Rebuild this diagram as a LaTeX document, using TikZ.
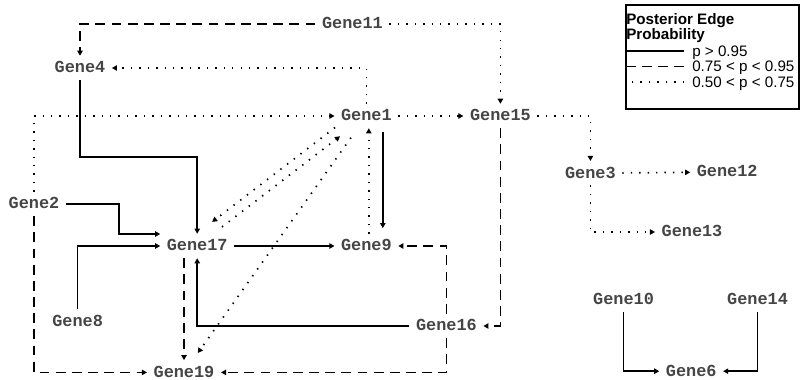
\documentclass[tikz,border=0pt]{standalone}
\usepackage{fontspec}
\setmainfont{Liberation Sans}
\newfontfamily\genefont{Liberation Mono}
\usetikzlibrary{arrows.meta}

\definecolor{genegray}{HTML}{454545}

\tikzstyle{gene} = [rectangle, font=\genefont\bfseries\fontsize{12}{14}\selectfont, text=genegray, inner xsep=4.5pt, inner ysep=5pt, text height=7pt, text depth=0pt]
\tikzstyle{link} = [line width=1.2pt, ->, >={Triangle[length=3.6pt,width=3.8pt]}]
\tikzstyle{strong} = [link]
\tikzstyle{moderate} = [link, dash pattern=on 7pt off 4.5pt]
\tikzstyle{weak} = [link, dash pattern=on 1pt off 5pt]
\tikzstyle{legendbox} = [rectangle, draw=black, line width=1.4pt, minimum width=4.31cm, minimum height=2.6cm]
\tikzstyle{legendtext} = [font=\fontsize{10.8}{11}\selectfont, inner sep=0pt, text depth=0pt, anchor=west]

\begin{document}
\begin{tikzpicture}[node distance=2cm]
\useasboundingbox (0,0) rectangle (20,-9.5);

\node (gene11) [gene] at (8.81,-0.6) {Gene11};
\node (gene1) [gene, below of=gene11, xshift=0.35cm, yshift=-0.3cm] {Gene1};
\node (gene15) [gene, right of=gene1, xshift=1.35cm] {Gene15};
\node (gene4) [gene, left of=gene11, xshift=-4.81cm, yshift=-1.1cm] {Gene4};
\node (gene9) [gene, below of=gene1, yshift=-1.25cm] {Gene9};
\node (gene17) [gene, left of=gene9, xshift=-2.23cm] {Gene17};
\node (gene2) [gene, left of=gene17, xshift=-2.08cm, yshift=1.05cm] {Gene2};
\node (gene8) [gene, below of=gene2, xshift=1.09cm, yshift=-0.93cm] {Gene8};
\node (gene19) [gene, below of=gene17, xshift=-0.33cm, yshift=-1.16cm] {Gene19};
\node (gene16) [gene, below of=gene9, xshift=2cm] {Gene16};
\node (gene3) [gene, below of=gene15, xshift=2.25cm, yshift=0.57cm] {Gene3};
\node (gene12) [gene, right of=gene3, xshift=1.42cm, yshift=0.03cm] {Gene12};
\node (gene13) [gene, below of=gene3, xshift=2.54cm, yshift=0.53cm] {Gene13};
\node (gene10) [gene, below of=gene3, xshift=0.83cm, yshift=-1.17cm] {Gene10};
\node (gene14) [gene, right of=gene10, xshift=1.35cm] {Gene14};
\node (gene6) [gene, below of=gene10, xshift=1.69cm, yshift=0.22cm] {Gene6};

% legend
\node (legend) [legendbox] at (17.81,-1.425) {};
\node (title) [anchor=north west, inner sep=0pt, align=left, font=\bfseries\fontsize{10.8}{10.8}\selectfont] at ([xshift=0.02cm, yshift=-0.22cm]legend.north west) {Posterior Edge\\Probability};
\node (pbig) [legendtext] at ([xshift=1.67cm, yshift=-1.175cm]legend.north west) {p > 0.95};
\node (pmid) [legendtext] at ([xshift=1.67cm, yshift=-1.5625cm]legend.north west) {0.75 < p < 0.95};
\node (plow) [legendtext] at ([xshift=1.67cm, yshift=-1.95cm]legend.north west) {0.50 < p < 0.75};
\draw [strong, -] ([xshift=-0.2cm]pbig.west) -- ++(-1.45,0);
\draw [moderate, -] ([xshift=-0.2cm]pmid.west) -- ++(-1.45,0);
\draw [weak, -] ([xshift=-0.2cm]plow.west) -- ++(-1.45,0);

% p > 0.95
\draw [strong] (gene4.south) -- ++(0,-1.925) -| (gene17.north);
\draw [strong] (gene2.east) -- ++(1.32,0) |- ([yshift=0.3cm]gene17.west);
\draw [strong] (gene8.north) |- (gene17.west);
\draw [strong] (gene17) -- (gene9);
\draw [strong, shorten <=3pt, shorten >=4pt] ([xshift=0.41cm]gene1.south) -- ([xshift=0.41cm]gene9.north);
\draw [strong] (gene16.west) -| (gene17.south);
\draw [strong] (gene10.south) |- (gene6.west);
\draw [strong] (gene14.south) |- (gene6.east);

% 0.75 < p < 0.95
\draw [moderate] (gene11.west) -| (gene4.north);
\draw [moderate] (gene2.south) |- (gene19.west);
\draw [moderate] (gene17.south -| gene19) -- (gene19.north);
\draw [moderate] (gene15.south) |- (gene16.east);
\draw [moderate] (gene16.north) |- (gene9.east);
\draw [moderate] (gene16.south) |- (gene19.east);

% 0.50 < p < 0.75
\draw [weak] (gene11.east) -| (gene15.north);
\draw [weak] (gene1.north) |- (gene4.east);
\draw [weak] (gene2.north) |- (gene1.west);
\draw [weak] (gene1) -- (gene15);
\draw [weak] ([xshift=0.06cm]gene9.north) -- ([xshift=0.06cm]gene1.south);
\draw [weak, shorten <=0.28cm, shorten >=0.33cm] (gene17) -- (gene1);
\draw [weak, shorten <=0.8cm, shorten >=0.66cm] ([xshift=-0.15cm, yshift=0.2cm]gene1.center) -- ([xshift=-0.15cm, yshift=0.2cm]gene17.center);
\draw [weak, shorten <=0.29cm, shorten >=0.22cm] (gene1) -- (gene19);
\draw [weak] (gene15.east) -| (gene3.north);
\draw [weak] (gene3) -- (gene12);
\draw [weak] (gene3.south) |- (gene13.west);

\end{tikzpicture}
\end{document}
